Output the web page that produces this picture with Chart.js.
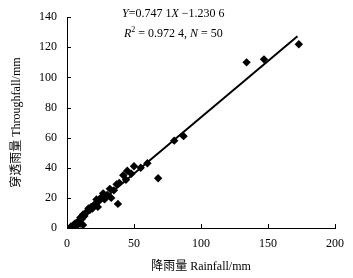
<!DOCTYPE html>
<html>
<head>
<meta charset="utf-8">
<script src="https://cdn.jsdelivr.net/npm/chart.js@4/dist/chart.umd.min.js"></script>
<style>
  html, body { margin: 0; padding: 0; background: #fff; }
  #wrap { width: 353px; height: 278px; }
</style>
</head>
<body>
<div id="wrap"><canvas id="js-chart-scatter"></canvas></div>
<script>
// Rainfall (x) vs throughfall (y), mm
const rainfall = [173, 147, 134, 87, 80, 68, 60, 55, 50, 48, 45, 44, 42, 39, 38, 37, 35, 32, 30, 28,
  27, 25, 24, 22, 21, 20, 19, 18, 17, 16, 15, 14, 13, 12, 11, 10, 10, 9, 8, 8,
  7, 6, 6, 5, 5, 4, 3, 12, 23, 33];
const throughfall = [122, 112, 110, 61, 58, 33, 43, 40, 41, 36, 38, 32, 35, 30, 16, 29, 25, 26, 22, 19,
  23, 20, 18, 19, 16, 15, 13, 14, 12, 13, 11, 10, 8, 9, 6, 7, 3, 5, 4, 2,
  3, 3, 1, 2, 1, 1, 1, 2, 14, 20];

// Fitted line ends
const fitX = [3, 172];
const fitY = [1, 127.3];

const xTicks = [0, 50, 100, 150, 200];
const yTicks = [0, 20, 40, 60, 80, 100, 120, 140];

const serif = "'Liberation Serif', 'Noto Sans CJK SC', serif";

// Inward tick marks + equation text
const extras = {
  id: 'extras',
  afterDraw(chart) {
    const ctx = chart.ctx;
    const xs = chart.scales.x, ys = chart.scales.y;
    const area = chart.chartArea;
    ctx.save();
    ctx.strokeStyle = '#000';
    ctx.lineWidth = 1;
    ctx.beginPath();
    xTicks.forEach(v => {
      const px = Math.round(xs.getPixelForValue(v)) + 0.5;
      ctx.moveTo(px, area.bottom);
      ctx.lineTo(px, area.bottom - 4);
    });
    yTicks.forEach(v => {
      const py = Math.round(ys.getPixelForValue(v)) + 0.5;
      ctx.moveTo(area.left, py);
      ctx.lineTo(area.left + 4, py);
    });
    ctx.stroke();

    // equation
    ctx.fillStyle = '#000';
    ctx.textBaseline = 'alphabetic';
    const parts1 = [['Y', true], ['=0.747 1', false], ['X', true], [' \u22121.230 6', false]];
    const parts2 = [['R', true], ['2', false, true], [' = 0.972 4, ', false], ['N', true], [' = 50', false]];
    const drawParts = (parts, x, y) => {
      parts.forEach(p => {
        const sup = p[2];
        ctx.font = (p[1] ? 'italic ' : '') + (sup ? '8px ' : '12px ') + serif;
        ctx.fillText(p[0], x, sup ? y - 5 : y);
        x += ctx.measureText(p[0]).width;
      });
    };
    drawParts(parts1, 122, 17);
    drawParts(parts2, 124, 37);
    ctx.restore();
  }
};

new Chart(document.getElementById('js-chart-scatter'), {
  type: 'scatter',
  data: {
    datasets: [
      {
        label: 'Observed',
        data: rainfall.map((x, i) => ({x: x, y: throughfall[i]})),
        pointStyle: 'rectRot',
        pointRadius: 4.2,
        backgroundColor: '#000',
        borderColor: '#000',
        borderWidth: 0
      },
      {
        type: 'line',
        label: 'Fit',
        data: fitX.map((x, i) => ({x: x, y: fitY[i]})),
        borderColor: '#000',
        borderWidth: 2,
        pointRadius: 0,
        fill: false
      }
    ]
  },
  options: {
    responsive: true,
    maintainAspectRatio: false,
    animation: false,
    layout: { padding: { top: 14, right: 16, left: 0, bottom: 0 } },
    plugins: { legend: { display: false }, tooltip: { enabled: false } },
    scales: {
      x: {
        type: 'linear',
        min: 0, max: 200,
        afterBuildTicks: s => { s.ticks = xTicks.map(v => ({value: v})); },
        afterFit: s => { s.height = 50; },
        grid: { display: false, drawTicks: false },
        border: { display: true, color: '#000', width: 1 },
        ticks: { color: '#000', padding: 9, font: { family: serif, size: 12 } },
        title: {
          display: true,
          text: '降雨量 Rainfall/mm',
          color: '#000',
          font: { family: serif, size: 12 },
          padding: { top: 4 }
        }
      },
      y: {
        type: 'linear',
        min: 0, max: 140,
        afterBuildTicks: s => { s.ticks = yTicks.map(v => ({value: v})); },
        afterFit: s => { s.width = 67; },
        grid: { display: false, drawTicks: false },
        border: { display: true, color: '#000', width: 1 },
        ticks: { color: '#000', padding: 10, font: { family: serif, size: 12 } },
        title: {
          display: true,
          text: '穿透雨量 Throughfall/mm',
          color: '#000',
          font: { family: serif, size: 12 },
          padding: { top: 10, bottom: 0 }
        }
      }
    }
  },
  plugins: [extras]
});
</script>
</body>
</html>
